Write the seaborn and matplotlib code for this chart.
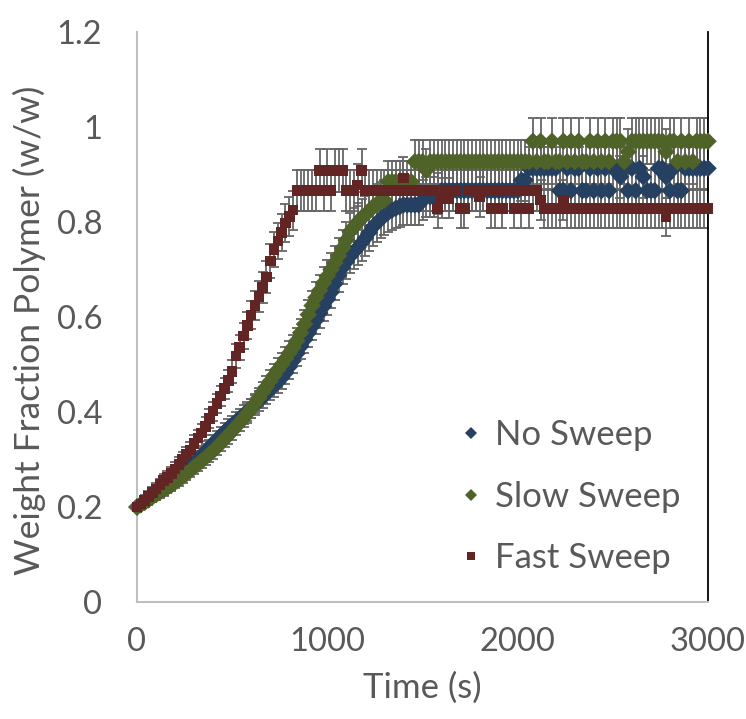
import matplotlib
matplotlib.use("Agg")
import numpy as np
import pandas as pd
import seaborn as sns
import matplotlib.pyplot as plt
from matplotlib.lines import Line2D

# ---------------- data ----------------
TIME = list(range(0, 3001, 20))  # s, sampling grid

NO_SWEEP = [
    0.200, 0.205, 0.210, 0.216, 0.222, 0.228, 0.234, 0.240, 0.246, 0.252,
    0.258, 0.265, 0.272, 0.279, 0.286, 0.293, 0.301, 0.309, 0.317, 0.325,
    0.334, 0.342, 0.350, 0.358, 0.366, 0.373, 0.380, 0.387, 0.394, 0.401,
    0.408, 0.415, 0.423, 0.431, 0.439, 0.447, 0.455, 0.463, 0.472, 0.482,
    0.495, 0.508, 0.523, 0.538, 0.552, 0.566, 0.580, 0.593, 0.608, 0.622,
    0.637, 0.652, 0.670, 0.688, 0.704, 0.716, 0.728, 0.737, 0.746, 0.756,
    0.766, 0.778, 0.790, 0.798, 0.806, 0.814, 0.820, 0.825, 0.829, 0.832,
    0.836, 0.836, 0.836, 0.836, 0.836, 0.846, 0.853, 0.853, 0.853, 0.860,
    0.866, 0.866, 0.866, 0.866, 0.866, 0.866, 0.866, 0.866, 0.866, 0.866,
    0.866, 0.866, 0.866, 0.866, 0.866, 0.866, 0.866, 0.866, 0.866, 0.866,
    0.866, 0.888, 0.888, 0.913, 0.913, 0.913, 0.913, 0.913, 0.913, 0.913,
    0.913, 0.866, 0.866, 0.913, 0.866, 0.913, 0.913, 0.866, 0.866, 0.913,
    0.866, 0.913, 0.866, 0.913, 0.866, 0.913, 0.913, 0.895, 0.913, 0.866,
    0.913, 0.866, 0.913, 0.895, 0.866, 0.866, 0.866, 0.913, 0.913, 0.895,
    0.866, 0.913, 0.866, 0.866, 0.913, 0.913, 0.913, 0.913, 0.913, 0.913,
    0.913,
]

SLOW_SWEEP = [
    0.200, 0.205, 0.210, 0.215, 0.221, 0.226, 0.231, 0.236, 0.241, 0.246,
    0.252, 0.258, 0.264, 0.270, 0.277, 0.284, 0.290, 0.297, 0.304, 0.311,
    0.318, 0.326, 0.334, 0.343, 0.351, 0.360, 0.369, 0.378, 0.387, 0.397,
    0.407, 0.418, 0.430, 0.442, 0.453, 0.465, 0.477, 0.489, 0.500, 0.512,
    0.524, 0.536, 0.550, 0.567, 0.585, 0.605, 0.624, 0.641, 0.656, 0.672,
    0.686, 0.700, 0.714, 0.729, 0.745, 0.762, 0.780, 0.790, 0.800, 0.809,
    0.815, 0.823, 0.832, 0.838, 0.843, 0.846, 0.885, 0.885, 0.885, 0.885,
    0.885, 0.885, 0.885, 0.927, 0.927, 0.927, 0.909, 0.927, 0.927, 0.927,
    0.927, 0.927, 0.927, 0.927, 0.927, 0.927, 0.927, 0.927, 0.927, 0.927,
    0.927, 0.927, 0.927, 0.927, 0.927, 0.927, 0.927, 0.927, 0.927, 0.927,
    0.927, 0.927, 0.927, 0.927, 0.970, 0.927, 0.970, 0.927, 0.927, 0.970,
    0.927, 0.927, 0.970, 0.927, 0.970, 0.927, 0.970, 0.927, 0.927, 0.970,
    0.927, 0.970, 0.927, 0.970, 0.927, 0.970, 0.970, 0.970, 0.927, 0.948,
    0.970, 0.970, 0.970, 0.970, 0.970, 0.970, 0.970, 0.970, 0.970, 0.948,
    0.970, 0.970, 0.927, 0.970, 0.927, 0.970, 0.927, 0.970, 0.970, 0.970,
    0.970,
]

FAST_SWEEP = [
    0.200, 0.206, 0.214, 0.222, 0.230, 0.238, 0.247, 0.256, 0.262, 0.271,
    0.280, 0.290, 0.300, 0.310, 0.320, 0.334, 0.345, 0.356, 0.370, 0.386,
    0.402, 0.418, 0.434, 0.450, 0.466, 0.485, 0.518, 0.536, 0.560, 0.582,
    0.604, 0.624, 0.643, 0.662, 0.684, 0.718, 0.742, 0.760, 0.778, 0.798,
    0.812, 0.825, 0.866, 0.866, 0.866, 0.866, 0.866, 0.866, 0.909, 0.866,
    0.909, 0.866, 0.909, 0.909, 0.909, 0.866, 0.866, 0.866, 0.878, 0.909,
    0.866, 0.866, 0.866, 0.866, 0.866, 0.866, 0.866, 0.866, 0.866, 0.866,
    0.893, 0.866, 0.866, 0.866, 0.866, 0.866, 0.866, 0.866, 0.866, 0.829,
    0.850, 0.866, 0.850, 0.866, 0.866, 0.829, 0.829, 0.866, 0.866, 0.866,
    0.853, 0.866, 0.866, 0.829, 0.829, 0.866, 0.829, 0.866, 0.866, 0.829,
    0.866, 0.829, 0.866, 0.829, 0.866, 0.866, 0.846, 0.829, 0.829, 0.829,
    0.829, 0.829, 0.846, 0.829, 0.829, 0.829, 0.829, 0.829, 0.829, 0.829,
    0.829, 0.829, 0.829, 0.829, 0.829, 0.829, 0.829, 0.829, 0.829, 0.829,
    0.829, 0.829, 0.829, 0.829, 0.829, 0.829, 0.829, 0.829, 0.829, 0.811,
    0.829, 0.829, 0.829, 0.829, 0.829, 0.829, 0.829, 0.829, 0.829, 0.829,
    0.829,
]

SERIES = ["No Sweep", "Slow Sweep", "Fast Sweep"]
COLORS = ["#254061", "#4F6228", "#632523"]
MARKERS = ["D", "D", "s"]
MARKER_AREAS = [80, 80, 58]
ERR_PCT = 0.05  # percentage error bars

X_TICKS = [0, 1000, 2000, 3000]
Y_TICKS = [0, 0.2, 0.4, 0.6, 0.8, 1.0, 1.2]
Y_TICK_LABELS = ["0", "0.2", "0.4", "0.6", "0.8", "1", "1.2"]
X_LABEL = "Time (s)"
Y_LABEL = "Weight Fraction Polymer (w/w)"

# ---------------- build table ----------------
values = [NO_SWEEP, SLOW_SWEEP, FAST_SWEEP]
frames = []
for name, vals in zip(SERIES, values):
    frames.append(pd.DataFrame({"Time": TIME, "Value": vals, "Series": name}))
df = pd.concat(frames, ignore_index=True)

# ---------------- style ----------------
sns.set_theme(style="white")
plt.rcParams["font.family"] = ["Lato", "DejaVu Sans"]
TEXT = "#595959"
FS = 25
TICK_FS = 23.5

fig = plt.figure(figsize=(7.46, 7.19), dpi=100)
ax = fig.add_axes([137 / 746, 1 - 602 / 719, (708 - 137) / 746, (602 - 32) / 719])

# error bars
for name, vals in zip(SERIES, values):
    v = np.asarray(vals)
    ax.errorbar(TIME, v, yerr=v * ERR_PCT, fmt="none", ecolor="#666666",
                elinewidth=1.3, capsize=3.8, capthick=1.3, zorder=2)

palette = dict(zip(SERIES, COLORS))
markers = dict(zip(SERIES, MARKERS))
sizes = dict(zip(SERIES, MARKER_AREAS))
sns.scatterplot(data=df, x="Time", y="Value", hue="Series", style="Series",
                size="Series", sizes=sizes,
                hue_order=SERIES, style_order=SERIES, size_order=SERIES,
                palette=palette, markers=markers, linewidth=0,
                legend=False, ax=ax, zorder=3, clip_on=False)

ax.set_xlim(0, 3000)
ax.set_ylim(0, 1.2)
ax.set_xticks(X_TICKS)
ax.set_xticklabels([str(t) for t in X_TICKS])
ax.set_yticks(Y_TICKS)
ax.set_yticklabels(Y_TICK_LABELS)
ax.tick_params(axis="both", length=0, labelsize=TICK_FS, labelcolor=TEXT)
ax.tick_params(axis="y", pad=25)
ax.tick_params(axis="x", pad=18)

ax.set_xlabel(X_LABEL, fontsize=FS, color=TEXT)
ax.set_ylabel(Y_LABEL, fontsize=FS + 0.5, color=TEXT)
ax.xaxis.set_label_coords(0.5, -0.122)
ax.yaxis.set_label_coords(-0.16, 0.477)

ax.spines["top"].set_visible(False)
for side in ["left", "bottom"]:
    ax.spines[side].set_color("#BFBFBF")
    ax.spines[side].set_linewidth(1.5)
ax.spines["right"].set_color("#000000")
ax.spines["right"].set_linewidth(1.3)

handles = [Line2D([0], [0], marker=m, color=c, linestyle="none",
                  markersize=(6.5 if m == "D" else 6), markeredgewidth=0)
           for m, c in zip(MARKERS, COLORS)]
leg = ax.legend(handles, SERIES, loc="upper left", bbox_to_anchor=(0.524, 0.345),
                frameon=False, fontsize=FS, labelspacing=0.85,
                handletextpad=0.1, handlelength=1.2, borderaxespad=0)
for t in leg.get_texts():
    t.set_color(TEXT)

fig.savefig("out.png", dpi=100)
